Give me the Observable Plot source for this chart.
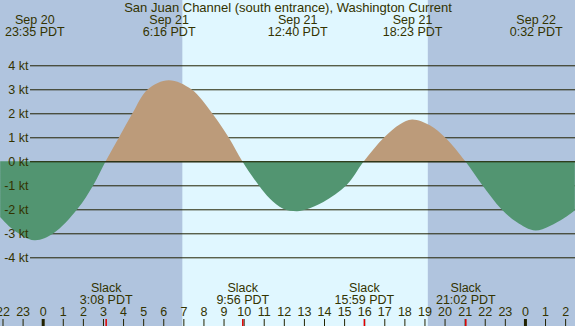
<!DOCTYPE html>
<html>
<head>
<meta charset="utf-8">
<script src="https://cdn.jsdelivr.net/npm/d3@7"></script>
<script src="https://cdn.jsdelivr.net/npm/@observablehq/plot@0.6"></script>
<style>
  html, body { margin: 0; padding: 0; background: #B0C4DE; }
  #chart svg { display: block; }
</style>
</head>
<body>
<div id="chart"></div>
<script>
// ---- data ----
const title = "San Juan Channel (south entrance), Washington Current";

// current speed (kt) through time (PDT, shown as clock time)
const curveTimes = [
  "2024-09-20T21:53", "2024-09-20T22:32", "2024-09-20T23:35",
  "2024-09-21T00:32", "2024-09-21T01:43", "2024-09-21T02:31", "2024-09-21T03:08",
  "2024-09-21T03:48", "2024-09-21T04:28", "2024-09-21T05:14", "2024-09-21T06:16",
  "2024-09-21T07:24", "2024-09-21T08:26", "2024-09-21T09:15", "2024-09-21T09:56",
  "2024-09-21T10:45", "2024-09-21T11:18", "2024-09-21T11:58", "2024-09-21T12:40",
  "2024-09-21T13:08", "2024-09-21T13:58", "2024-09-21T15:07",
  "2024-09-21T15:59", "2024-09-21T17:00", "2024-09-21T17:47", "2024-09-21T18:23",
  "2024-09-21T19:16", "2024-09-21T20:01", "2024-09-21T21:02", "2024-09-21T21:53",
  "2024-09-21T22:50", "2024-09-21T23:35", "2024-09-22T00:32", "2024-09-22T01:54",
  "2024-09-22T02:29"
];
const curveValues = [
  -2.32, -2.85, -3.29,
  -3.0, -2.0, -1.0, 0,
  1.0, 2.0, 3.0, 3.38,
  3.0, 2.0, 1.0, 0,
  -1.0, -1.55, -1.98, -2.08,
  -2.0, -1.7, -1.0,
  0, 1.0, 1.54, 1.74,
  1.5, 1.0, 0, -1.0,
  -2.0, -2.53, -2.88, -2.39,
  -2.04
];

// labelled extremes (top)
const extremeTimes = ["2024-09-20T23:35", "2024-09-21T06:16", "2024-09-21T12:40", "2024-09-21T18:23", "2024-09-22T00:32"];
const extremeDays = ["Sep 20", "Sep 21", "Sep 21", "Sep 21", "Sep 22"];
const extremeLabels = ["23:35 PDT", "6:16 PDT", "12:40 PDT", "18:23 PDT", "0:32 PDT"];

// slack water (bottom)
const slackTimes = ["2024-09-21T03:08", "2024-09-21T09:56", "2024-09-21T15:59", "2024-09-21T21:02"];
const slackLabels = ["3:08 PDT", "9:56 PDT", "15:59 PDT", "21:02 PDT"];

// daylight
const sunrise = "2024-09-21T06:57";
const sunset = "2024-09-21T19:10";

// axis
const ktTicks = [4, 3, 2, 1, 0, -1, -2, -3, -4];
const xStart = "2024-09-20T21:52:30";
const xEnd = "2024-09-22T02:29:30";

// ---- build ----
const P = s => new Date(s + "Z");
const curve = curveTimes.map((t, i) => ({t: P(t), v: curveValues[i]}));
const extremes = extremeTimes.map((t, i) => ({t: P(t), text: extremeDays[i] + "\n" + extremeLabels[i]}));
const slacks = slackTimes.map((t, i) => ({t: P(t), text: "Slack\n" + slackLabels[i]}));
const hours = d3.utcHour.range(d3.utcHour.ceil(P(xStart)), P(xEnd));
const midnights = hours.filter(d => d.getUTCHours() === 0);

const ink = "#333300";
const floodColor = "#BC9B7A";
const ebbColor = "#529571";

const chart = Plot.plot({
  width: 575,
  height: 326,
  marginTop: 0, marginBottom: 0, marginLeft: 0, marginRight: 0,
  x: {type: "utc", domain: [P(xStart), P(xEnd)], axis: null},
  y: {domain: [-6.862, 6.72], axis: null},
  style: {fontFamily: "'Liberation Sans', Arial, sans-serif", fontSize: "12.5px", color: ink, background: "#B0C4DE", overflow: "visible"},
  marks: [
    Plot.rect([{a: P(sunrise), b: P(sunset)}], {x1: "a", x2: "b", fill: "#E0F7FF"}),
    Plot.ruleY(ktTicks, {insetLeft: 30, stroke: "#222200", strokeWidth: 1}),
    Plot.areaY(curve, {x: "t", y1: 0, y2: "v", curve: "catmull-rom", fill: "url(#flowfill)"}),
    Plot.ruleY([0], {insetLeft: 30, stroke: "#222200", strokeWidth: 1}),
    Plot.text(ktTicks, {y: d => d, text: d => `${d} kt`, frameAnchor: "left", dx: 28, textAnchor: "end", lineAnchor: "middle", fill: ink}),
    // title
    Plot.text([title], {text: d => d, frameAnchor: "top", dy: 7.5, lineAnchor: "middle", fontSize: 13, fill: ink}),
    // extremes
    Plot.text(extremes, {x: "t", text: "text", frameAnchor: "top", dy: 26, lineAnchor: "middle", lineHeight: 0.94, fill: ink}),
    // slack
    Plot.text(slacks, {x: "t", text: "text", frameAnchor: "bottom", dy: -32.7, lineAnchor: "middle", lineHeight: 0.96, fill: ink}),
    // hour ticks
    Plot.ruleX(hours, {x: d => d, insetTop: 319, stroke: "#222200", strokeWidth: 1}),
    Plot.ruleX(midnights, {x: d => d, insetTop: 319, stroke: "#222200", strokeWidth: 3}),
    Plot.ruleX(slacks, {x: "t", insetTop: 319, stroke: "#e00000", strokeWidth: 1.5}),
    Plot.text(hours, {x: d => d, text: d => String(d.getUTCHours()), frameAnchor: "bottom", dy: -14.3, lineAnchor: "middle", fill: ink})
  ]
});

// two-colour fill split at the 0 kt line (flood above, ebb below)
const y0 = chart.scale("y").apply(0);
const ns = "http://www.w3.org/2000/svg";
const defs = document.createElementNS(ns, "defs");
const grad = document.createElementNS(ns, "linearGradient");
grad.setAttribute("id", "flowfill");
grad.setAttribute("gradientUnits", "userSpaceOnUse");
grad.setAttribute("x1", "0"); grad.setAttribute("x2", "0");
grad.setAttribute("y1", "0"); grad.setAttribute("y2", "326");
const off = y0 / 326;
[[0, floodColor], [off, floodColor], [off, ebbColor], [1, ebbColor]].forEach(([o, c]) => {
  const s = document.createElementNS(ns, "stop");
  s.setAttribute("offset", o);
  s.setAttribute("stop-color", c);
  grad.appendChild(s);
});
defs.appendChild(grad);
chart.insertBefore(defs, chart.firstChild);
document.getElementById("chart").appendChild(chart);
</script>
</body>
</html>
